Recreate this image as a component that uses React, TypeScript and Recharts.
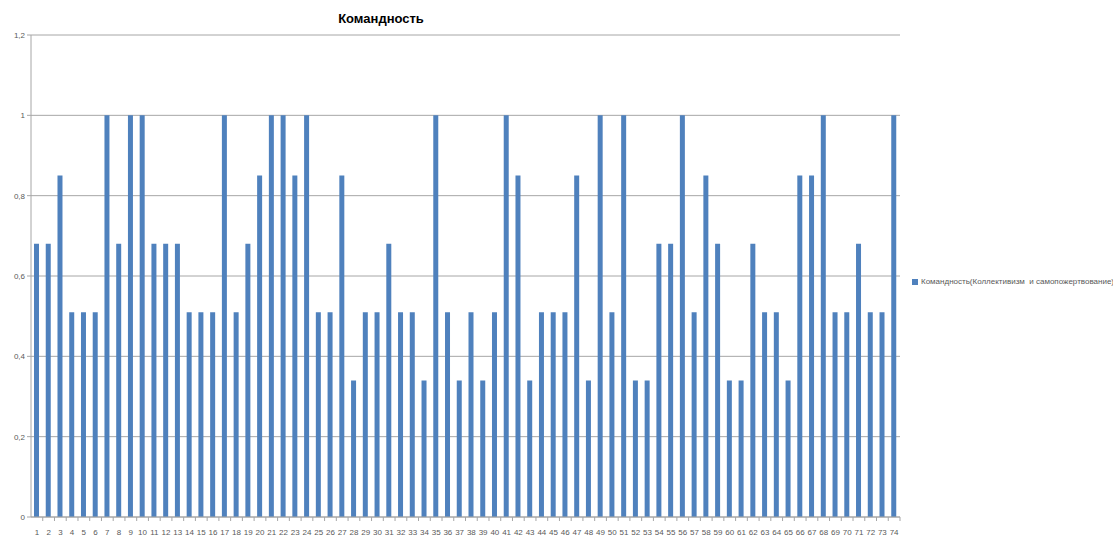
import React from 'react'
import { BarChart, Bar, XAxis, YAxis, CartesianGrid } from 'recharts'

// номера респондентов 1..74
const categories = [
  '1', '2', '3', '4', '5', '6', '7', '8', '9', '10', '11', '12', '13', '14', '15', '16', '17', '18', '19', '20',
  '21', '22', '23', '24', '25', '26', '27', '28', '29', '30', '31', '32', '33', '34', '35', '36', '37', '38', '39', '40',
  '41', '42', '43', '44', '45', '46', '47', '48', '49', '50', '51', '52', '53', '54', '55', '56', '57', '58', '59', '60',
  '61', '62', '63', '64', '65', '66', '67', '68', '69', '70', '71', '72', '73', '74',
]

const teamwork = [
  0.68, 0.68, 0.85, 0.51, 0.51, 0.51, 1, 0.68, 1, 1,
  0.68, 0.68, 0.68, 0.51, 0.51, 0.51, 1, 0.51, 0.68, 0.85,
  1, 1, 0.85, 1, 0.51, 0.51, 0.85, 0.34, 0.51, 0.51,
  0.68, 0.51, 0.51, 0.34, 1, 0.51, 0.34, 0.51, 0.34, 0.51,
  1, 0.85, 0.34, 0.51, 0.51, 0.51, 0.85, 0.34, 1, 0.51,
  1, 0.34, 0.34, 0.68, 0.68, 1, 0.51, 0.85, 0.68, 0.34,
  0.34, 0.68, 0.51, 0.51, 0.34, 0.85, 0.85, 1, 0.51, 0.51,
  0.68, 0.51, 0.51, 1,
]

const yTicks = [0, 0.2, 0.4, 0.6, 0.8, 1, 1.2]

const seriesName = 'Командность(Коллективизм  и самопожертвование)'

const data = categories.map((c, i) => ({ name: c, value: teamwork[i] }))

const W = 1113
const H = 537
const PLOT_LEFT = 31
const PLOT_RIGHT = 900
const step = (PLOT_RIGHT - PLOT_LEFT) / categories.length

const barColor = '#4f81bd'
const axisColor = '#a6a6a6'
const labelColor = '#595959'
const font = '"Liberation Sans", Arial, sans-serif'

const XTick = (props: any) => {
  const { x, y, payload } = props
  return (
    <g>
      <line x1={x + step / 2} x2={x + step / 2} y1={y - 8} y2={y - 4} stroke={axisColor} />
      <text x={x} y={y + 10} textAnchor="middle" fontSize={8} fill={labelColor} fontFamily={font}>
        {payload.value}
      </text>
    </g>
  )
}

export default function App() {
  return (
    <div style={{ position: 'absolute', left: 0, top: 0, width: W, height: H, background: '#fff', fontFamily: font }}>
      <div
        style={{
          position: 'absolute',
          left: 381,
          top: 11,
          transform: 'translateX(-50%)',
          fontSize: 13,
          fontWeight: 'bold',
          color: '#000',
          whiteSpace: 'nowrap',
        }}
      >
        Командность
      </div>
      <div
        style={{
          position: 'absolute',
          left: 912,
          top: 277,
          fontSize: 8,
          color: labelColor,
          whiteSpace: 'pre',
          display: 'flex',
          alignItems: 'center',
        }}
      >
        <span style={{ display: 'inline-block', width: 6, height: 6, background: barColor, marginRight: 3 }} />
        {seriesName}
      </div>
      <BarChart
        width={W}
        height={H}
        data={data}
        margin={{ top: 35, right: W - PLOT_RIGHT, bottom: 0, left: 0 }}
        barSize={5}
      >
        <CartesianGrid vertical={false} stroke={axisColor} strokeWidth={1} />
        <XAxis
          dataKey="name"
          interval={0}
          height={20}
          stroke={axisColor}
          tickLine={false}
          tick={<XTick />}
        />
        <YAxis
          width={PLOT_LEFT}
          domain={[0, 1.2]}
          ticks={yTicks}
          stroke={axisColor}
          tickSize={4}
          tick={{ fontSize: 8, fill: labelColor, fontFamily: font }}
          tickFormatter={(v: number) => String(Math.round(v * 10) / 10).replace('.', ',')}
        />
        <Bar dataKey="value" name={seriesName} fill={barColor} isAnimationActive={false} />
      </BarChart>
    </div>
  )
}
